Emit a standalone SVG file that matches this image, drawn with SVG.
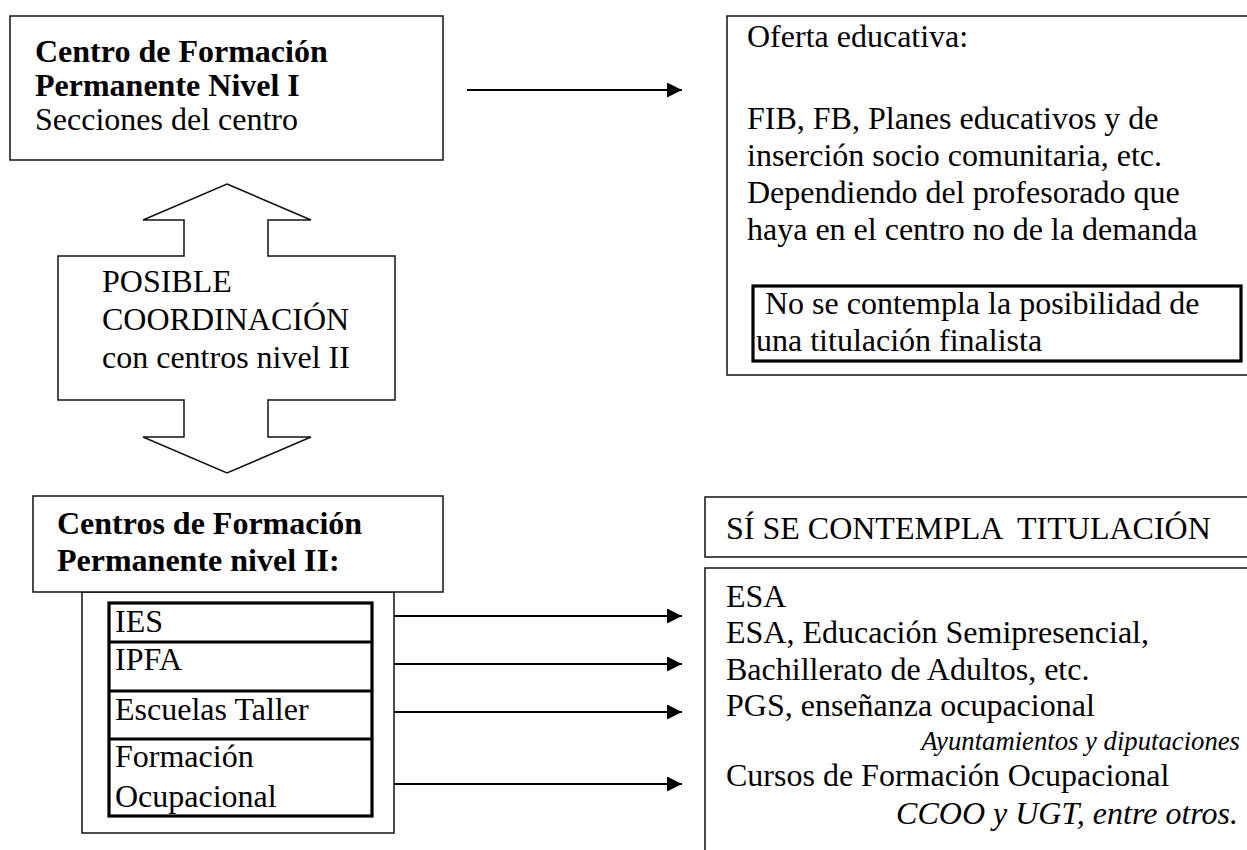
<svg xmlns="http://www.w3.org/2000/svg" width="1247" height="850" viewBox="0 0 1247 850" font-family="'Liberation Serif', 'Times New Roman', Tinos, 'DejaVu Serif', serif">
<style>
text{font-family:'Liberation Serif','Times New Roman',Tinos,'DejaVu Serif',serif;font-size:32px;fill:#000}
.b{font-weight:bold}
.i{font-style:italic}
.box{fill:#fff;stroke:#111;stroke-width:1.5}
.thick{fill:none;stroke:#000;stroke-width:3.2}
.con{stroke:#000;stroke-width:2;fill:none}
</style>
<defs>
<marker id="ah" markerWidth="15" markerHeight="15" refX="15" refY="7.5" orient="auto" markerUnits="userSpaceOnUse">
<path d="M0,0 L15,7.5 L0,15 Z" fill="#000"/>
</marker>
</defs>

<g id="nivel1">
<rect class="box" x="10" y="16" width="433" height="144"/>
<text class="b" x="35" y="62">Centro de Formación</text>
<text class="b" x="35" y="96">Permanente Nivel I</text>
<text x="35" y="130">Secciones del centro</text>
</g>

<g id="oferta">
<rect class="box" x="727" y="16" width="530" height="359"/>
<text x="747" y="47">Oferta educativa:</text>
<text x="747" y="129">FIB, FB, Planes educativos y de</text>
<text x="747" y="166">inserción socio comunitaria, etc.</text>
<text x="747" y="203">Dependiendo del profesorado que</text>
<text x="747" y="240">haya en el centro no de la demanda</text>
<rect class="thick" x="753" y="286" width="488" height="75"/>
<text x="757" y="314" xml:space="preserve"> No se contempla la posibilidad de</text>
<text x="756" y="351">una titulación finalista</text>
</g>

<g id="coordinacion">
<path class="box" d="M227,184 L311,220 L268,220 L268,256 L395,256 L395,400 L268,400 L268,437 L311,437 L227,473 L143,437 L184,437 L184,400 L58,400 L58,256 L184,256 L184,220 L143,220 Z"/>
<text x="102" y="292">POSIBLE</text>
<text x="102" y="330">COORDINACIÓN</text>
<text x="102" y="368">con centros nivel II</text>
</g>

<g id="nivel2">
<rect class="box" x="82" y="592" width="312" height="241"/>
<rect class="box" x="33" y="496" width="410" height="96"/>
<text class="b" x="57" y="534">Centros de Formación</text>
<text class="b" x="57" y="571">Permanente nivel II:</text>
<rect class="thick" x="109" y="603" width="263" height="213"/>
<line class="thick" x1="109" y1="642" x2="372" y2="642"/>
<line class="thick" x1="109" y1="691" x2="372" y2="691"/>
<line class="thick" x1="109" y1="739" x2="372" y2="739"/>
<text x="115" y="632">IES</text>
<text x="115" y="670">IPFA</text>
<text x="115" y="720">Escuelas Taller</text>
<text x="115" y="767">Formación</text>
<text x="115" y="807">Ocupacional</text>
</g>

<g id="titulacion">
<rect class="box" x="705" y="497" width="560" height="60"/>
<text x="726" y="539" xml:space="preserve">SÍ SE CONTEMPLA  TITULACIÓN</text>
</g>

<g id="ofertaII">
<rect class="box" x="705" y="568" width="560" height="300"/>
<text x="726" y="607">ESA</text>
<text x="726" y="643">ESA, Educación Semipresencial,</text>
<text x="726" y="680">Bachillerato de Adultos, etc.</text>
<text x="726" y="716">PGS, enseñanza ocupacional</text>
<text class="i" x="1240" y="750" text-anchor="end" style="font-size:26.7px">Ayuntamientos y diputaciones</text>
<text x="726" y="786">Cursos de Formación Ocupacional</text>
<text class="i" x="1238" y="824" text-anchor="end">CCOO y UGT, entre otros.</text>
</g>

<g id="connectors">
<line class="con" x1="467" y1="90" x2="682" y2="90" marker-end="url(#ah)"/>
<line class="con" x1="394" y1="616" x2="682" y2="616" marker-end="url(#ah)"/>
<line class="con" x1="394" y1="664" x2="682" y2="664" marker-end="url(#ah)"/>
<line class="con" x1="394" y1="712" x2="682" y2="712" marker-end="url(#ah)"/>
<line class="con" x1="394" y1="784" x2="682" y2="784" marker-end="url(#ah)"/>
</g>
</svg>
